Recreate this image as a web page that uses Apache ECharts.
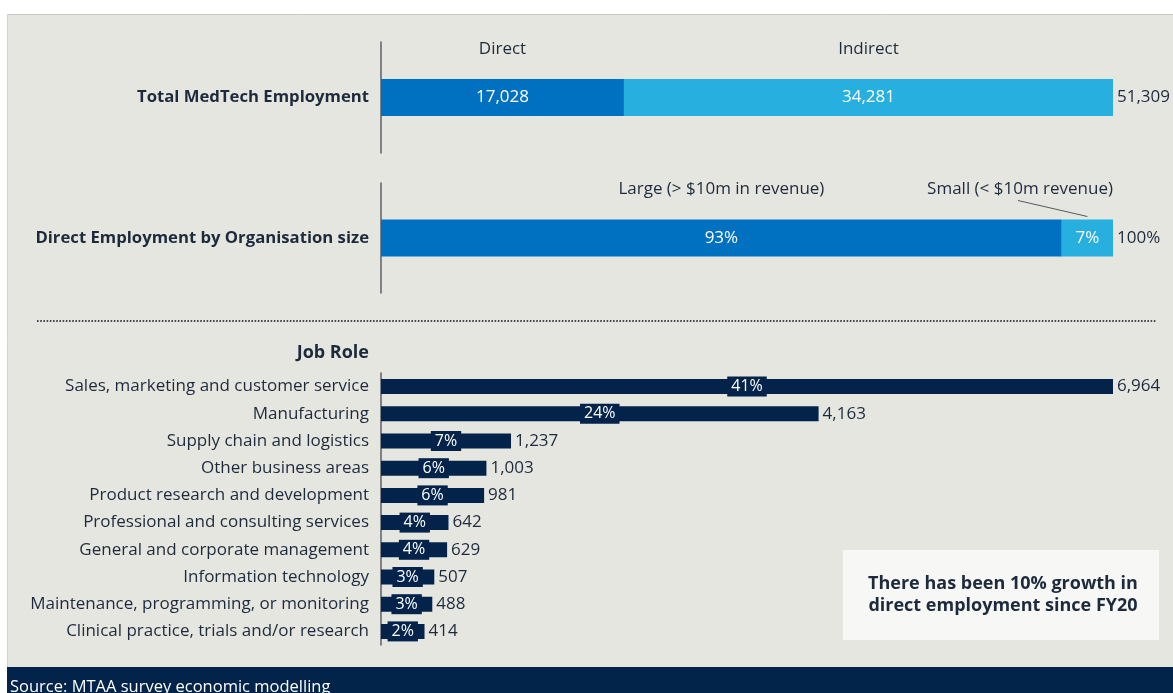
<!DOCTYPE html>
<html>
<head>
<meta charset="utf-8">
<script src="https://cdn.jsdelivr.net/npm/echarts@6/dist/echarts.min.js"></script>
<style>
  html, body { margin: 0; padding: 0; background: #ffffff; }
  #chart { width: 1173px; height: 693px; }
</style>
</head>
<body>
<div id="chart"></div>
<script>
// Total employment split
const totalCategory = ['Total MedTech Employment'];
const employmentTypes = ['Direct', 'Indirect'];
const employmentValues = [17028, 34281];
const employmentTotal = 51309;

// Direct employment by organisation size (percent)
const sizeCategory = ['Direct Employment by Organisation size'];
const sizeGroups = ['Large (> $10m in revenue)', 'Small (< $10m revenue)'];
const sizeShares = [93, 7];
const sizeTotal = 100;

// Direct employment by job role
const jobRoles = [
  'Sales, marketing and customer service',
  'Manufacturing',
  'Supply chain and logistics',
  'Other business areas',
  'Product research and development',
  'Professional and consulting services',
  'General and corporate management',
  'Information technology',
  'Maintenance, programming, or monitoring',
  'Clinical practice, trials and/or research'
];
const jobValues = [6964, 4163, 1237, 1003, 981, 642, 629, 507, 488, 414];
const jobShares = [41, 24, 7, 6, 6, 4, 4, 3, 3, 2];

const FONT = '"Open Sans", "Noto Sans", sans-serif';
const TEXT = '#1d2a3c';
const NAVY = '#03234b';
const BLUE = '#0070c0';
const LIGHT_BLUE = '#27afe0';
const BG = '#e6e6e1';
const STACK_BAR = 37;
const JOB_BAR = 15;
const FS = 17;

const fmt = v => Number(v).toLocaleString('en-US');

// cumulative [start, end] spans for the segment headers
function spans(values) {
  let acc = 0;
  return values.map(v => { const s = acc; acc += v; return [s, acc]; });
}

// header text above each stacked segment; narrow end segments get a leader line
function headerSeries(xAxisIndex, yAxisIndex, names, values) {
  return {
    type: 'custom',
    xAxisIndex, yAxisIndex,
    silent: true,
    z: 5,
    data: spans(values),
    renderItem(params, api) {
      const a = api.coord([api.value(0), 0]);
      const b = api.coord([api.value(1), 0]);
      const top = a[1] - STACK_BAR / 2;
      const cx = (a[0] + b[0]) / 2;
      const narrow = (b[0] - a[0]) < 160;
      const children = [{
        type: 'text',
        style: {
          x: narrow ? b[0] : cx,
          y: top - 30,
          text: names[params.dataIndex],
          fill: TEXT,
          font: FS + 'px ' + FONT,
          align: narrow ? 'right' : 'center',
          verticalAlign: 'middle'
        }
      }];
      if (narrow) {
        children.push({
          type: 'line',
          shape: { x1: b[0] - 95, y1: top - 19, x2: cx, y2: top - 3 },
          style: { stroke: '#555a60', lineWidth: 1 }
        });
      }
      return { type: 'group', children };
    }
  };
}

const hiddenX = (gridIndex, max) => ({
  type: 'value', gridIndex, min: 0, max,
  show: false, splitLine: { show: false }
});

const leftCat = (gridIndex, data, extra) => Object.assign({
  type: 'category', gridIndex, data, position: 'left',
  axisLine: { show: true, lineStyle: { color: '#5b6068', width: 1.5 } },
  axisTick: { show: false },
  axisLabel: { color: TEXT, fontFamily: FONT, fontSize: FS, margin: 12 }
}, extra || {});

const rightCat = (gridIndex, data) => ({
  type: 'category', gridIndex, data, position: 'right',
  axisLine: { show: false }, axisTick: { show: false },
  axisLabel: { color: TEXT, fontFamily: FONT, fontSize: FS, margin: 4 }
});

const boldLabel = { color: TEXT, fontFamily: FONT, fontSize: 16.7, fontWeight: 'bold', margin: 12 };

const chart = echarts.init(document.getElementById('chart'), null, { renderer: 'canvas' });

chart.setOption({
  backgroundColor: BG,
  animation: false,
  textStyle: { fontFamily: FONT },
  grid: [
    { left: 381, width: 732, top: 42, height: 111 },
    { left: 381, width: 732, top: 183, height: 110 },
    { left: 381, width: 732, top: 373, height: 272 }
  ],
  xAxis: [
    hiddenX(0, employmentTotal),
    hiddenX(1, sizeTotal),
    hiddenX(2, Math.max(...jobValues))
  ],
  yAxis: [
    leftCat(0, totalCategory, { axisLabel: boldLabel }),
    rightCat(0, [fmt(employmentTotal)]),
    leftCat(1, sizeCategory, { axisLabel: boldLabel }),
    rightCat(1, [sizeTotal + '%']),
    leftCat(2, jobRoles, { inverse: true })
  ],
  series: [
    // total employment
    ...employmentTypes.map((name, i) => ({
      type: 'bar', name, stack: 'total',
      xAxisIndex: 0, yAxisIndex: 0,
      barWidth: STACK_BAR,
      itemStyle: { color: i === 0 ? BLUE : LIGHT_BLUE },
      label: { show: true, position: 'inside', color: '#ffffff', fontSize: FS, fontFamily: FONT, formatter: p => fmt(p.value) },
      data: [employmentValues[i]]
    })),
    headerSeries(0, 0, employmentTypes, employmentValues),

    // organisation size
    ...sizeGroups.map((name, i) => ({
      type: 'bar', name, stack: 'size',
      xAxisIndex: 1, yAxisIndex: 2,
      barWidth: STACK_BAR,
      itemStyle: { color: i === 0 ? BLUE : LIGHT_BLUE },
      label: { show: true, position: 'inside', color: '#ffffff', fontSize: FS, fontFamily: FONT, formatter: p => p.value + '%' },
      data: [sizeShares[i]]
    })),
    headerSeries(1, 2, sizeGroups, sizeShares),

    // job roles: bars with value labels
    {
      type: 'bar', name: 'Employees',
      xAxisIndex: 2, yAxisIndex: 4,
      barWidth: JOB_BAR,
      itemStyle: { color: NAVY },
      label: { show: true, position: 'right', distance: 4, color: TEXT, fontSize: FS, fontFamily: FONT, formatter: p => fmt(p.value) },
      data: jobValues
    },
    // share-of-total tags centred on each bar
    {
      type: 'bar', name: 'Share',
      xAxisIndex: 2, yAxisIndex: 4,
      barWidth: JOB_BAR, barGap: '-100%',
      itemStyle: { color: 'rgba(0,0,0,0)' },
      z: 3,
      label: {
        show: true, position: 'inside', color: '#ffffff', fontSize: 16, fontFamily: FONT,
        lineHeight: 19,
        backgroundColor: NAVY, padding: [1, 4, 0, 4], borderRadius: 0,
        formatter: p => jobShares[p.dataIndex] + '%'
      },
      data: jobValues
    }
  ],
  graphic: [
    { type: 'rect', shape: { x: 0, y: 0, width: 1173, height: 14 }, style: { fill: '#ffffff' }, silent: true },
    { type: 'rect', shape: { x: 0, y: 0, width: 7, height: 693 }, style: { fill: '#ffffff' }, silent: true },
    { type: 'line', shape: { x1: 7, y1: 14.5, x2: 1173, y2: 14.5 }, style: { stroke: '#c9c9c4', lineWidth: 1 }, silent: true },
    { type: 'line', shape: { x1: 7.5, y1: 14, x2: 7.5, y2: 667 }, style: { stroke: '#d3d3ce', lineWidth: 1 }, silent: true },
    // section divider
    { type: 'line', shape: { x1: 37, y1: 321, x2: 1157, y2: 321 }, style: { stroke: '#45494e', lineWidth: 2, lineDash: [1.6, 1.6] }, silent: true },
    // section title
    { type: 'text', style: { x: 369, y: 353, text: 'Job Role', fill: TEXT, font: 'bold 18px ' + FONT, align: 'right', verticalAlign: 'middle' }, silent: true },
    // call-out box
    { type: 'rect', shape: { x: 843, y: 550, width: 316, height: 90 }, style: { fill: '#f7f7f5' }, silent: true },
    { type: 'text', style: { x: 1003, y: 595, text: 'There has been 10% growth in\ndirect employment since FY20', fill: TEXT, font: 'bold 18px ' + FONT, lineHeight: 22, align: 'center', verticalAlign: 'middle' }, silent: true },
    // footer
    { type: 'rect', shape: { x: 7, y: 667, width: 1166, height: 26 }, style: { fill: '#02234a' }, silent: true },
    { type: 'text', style: { x: 10, y: 679, text: 'Source: MTAA survey economic modelling', fill: '#ffffff', font: '16.5px ' + FONT, align: 'left', verticalAlign: 'top' }, silent: true }
  ]
});
</script>
</body>
</html>
